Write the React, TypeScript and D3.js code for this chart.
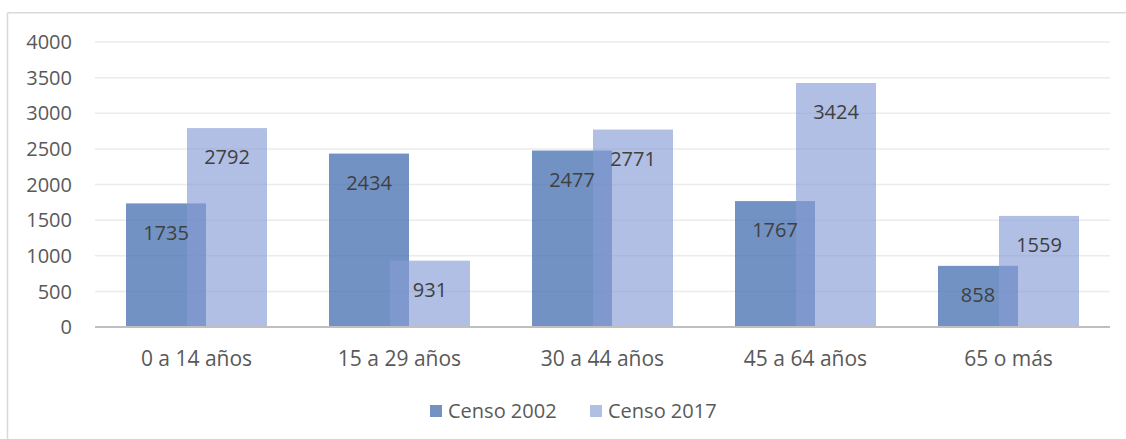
import React from "react";
import * as d3 from "d3";

const categories = ["0 a 14 años", "15 a 29 años", "30 a 44 años", "45 a 64 años", "65 o más"];
const censo2002 = [1735, 2434, 2477, 1767, 858];
const censo2017 = [2792, 931, 2771, 3424, 1559];
const yTicks = [0, 500, 1000, 1500, 2000, 2500, 3000, 3500, 4000];
const seriesNames = ["Censo 2002", "Censo 2017"];

const font = "'Open Sans', 'Liberation Sans', sans-serif";

export default function App() {
  const width = 1126;
  const height = 439;
  const plot = { left: 95, right: 1110, top: 42, bottom: 327 };

  const x = d3.scaleBand<string>().domain(categories).range([plot.left, plot.right]);
  const y = d3.scaleLinear().domain([0, 4000]).range([plot.bottom, plot.top]);

  const barW = 80;
  const shift = 30.5; // half distance between the two bars' centres

  const series = [
    { name: seriesNames[0], values: censo2002, fill: "#4f77b5", opacity: 0.8, dx: -shift },
    { name: seriesNames[1], values: censo2017, fill: "#869dd4", opacity: 0.65, dx: shift },
  ];
  const legendSwatch = ["#7292c4", "#b0bfe3"];

  return (
    <svg width={width} height={height} style={{ position: "absolute", left: 0, top: 0 }}>
      <rect width={width} height={height} fill="#fff" />
      {/* chart frame, runs off the right and bottom of the picture */}
      <line x1={7.5} x2={width} y1={12.7} y2={12.7} stroke="#d9d9d9" strokeWidth={1.5} />
      <line x1={7.5} x2={7.5} y1={12.7} y2={height} stroke="#d9d9d9" strokeWidth={1.5} />

      {yTicks.map((t) => (
        <g key={t}>
          {t > 0 && (
            <line x1={plot.left} x2={plot.right} y1={y(t)} y2={y(t)} stroke="#ebebeb" strokeWidth={1.5} />
          )}
          <text
            x={72}
            y={y(t)}
            dy="0.36em"
            textAnchor="end"
            fontFamily={font}
            fontSize={20}
            fill="#595959"
          >
            {t}
          </text>
        </g>
      ))}

      {series.map((s) =>
        categories.map((c, i) => {
          const cx = (x(c) ?? 0) + x.bandwidth() / 2 + s.dx;
          return (
            <rect
              key={s.name + c}
              x={cx - barW / 2}
              y={y(s.values[i])}
              width={barW}
              height={y(0) - y(s.values[i])}
              fill={s.fill}
              fillOpacity={s.opacity}
            />
          );
        })
      )}

      <line x1={plot.left} x2={plot.right} y1={y(0)} y2={y(0)} stroke="#bfbfbf" strokeWidth={2} />

      {series.map((s) =>
        categories.map((c, i) => {
          const cx = (x(c) ?? 0) + x.bandwidth() / 2 + s.dx;
          return (
            <text
              key={"l" + s.name + c}
              x={cx}
              y={y(s.values[i]) + 29}
              dy="0.36em"
              textAnchor="middle"
              fontFamily={font}
              fontSize={20}
              fill="#404040"
            >
              {s.values[i]}
            </text>
          );
        })
      )}

      {categories.map((c) => (
        <text
          key={"c" + c}
          x={(x(c) ?? 0) + x.bandwidth() / 2}
          y={358}
          dy="0.36em"
          textAnchor="middle"
          fontFamily={font}
          fontSize={21}
          fill="#595959"
        >
          {c}
        </text>
      ))}

      {seriesNames.map((n, i) => {
        const lx = 430 + i * 160;
        return (
          <g key={n}>
            <rect x={lx} y={405} width={12} height={12} fill={legendSwatch[i]} />
            <text x={lx + 18} y={411} dy="0.36em" fontFamily={font} fontSize={20} fill="#595959">
              {n}
            </text>
          </g>
        );
      })}
    </svg>
  );
}
